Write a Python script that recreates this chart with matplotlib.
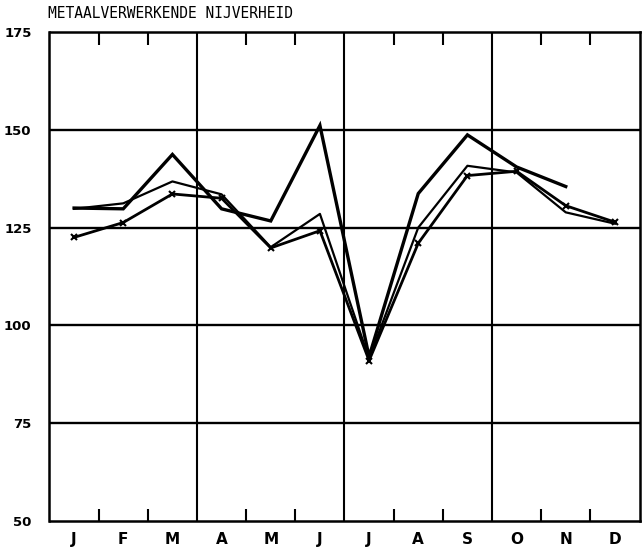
import matplotlib
matplotlib.use("Agg")
import matplotlib.pyplot as plt
from matplotlib.ticker import FixedLocator

months = ["J", "F", "M", "A", "M", "J", "J", "A", "S", "O", "N", "D"]
yticks = [50, 75, 100, 125, 150, 175]

# three series (last one has no December value)
series_a = [130.0, 129.8, 143.7, 129.8, 126.7, 151.1, 92.0, 133.7, 148.7, 140.5, 135.5]
series_b = [129.8, 131.2, 136.8, 133.5, 120.0, 128.5, 91.5, 125.0, 140.8, 139.1, 128.9, 126.0]
series_c = [122.5, 126.3, 133.6, 132.5, 119.8, 124.2, 91.0, 121.0, 138.3, 139.4, 130.6, 126.4]

fig = plt.figure(figsize=(6.43, 5.55), dpi=100)
ax = fig.add_axes([49.5 / 643, 1 - 521 / 555, 590 / 643, 489 / 555])

x = list(range(12))
ax.plot(x[:len(series_a)], series_a, color="black", lw=2.4, solid_joinstyle="miter")
ax.plot(x, series_b, color="black", lw=1.6)
ax.plot(x, series_c, color="black", lw=2.0, marker="x", ms=4, mew=1.5)

ax.set_xlim(-0.5, 11.5)
ax.set_ylim(50, 175)

# horizontal grid lines
for v in yticks[1:-1]:
    ax.axhline(v, color="black", lw=1.7)
# quarter lines
for q in (2.5, 5.5, 8.5):
    ax.axvline(q, color="black", lw=1.5)

for s in ax.spines.values():
    s.set_linewidth(1.8)

ax.set_yticks(yticks)
ax.set_yticklabels([str(v) for v in yticks], fontweight="bold", fontsize=9.5)
ax.tick_params(axis="y", length=0, pad=13)

ax.set_xticks(x)
ax.set_xticklabels(months, fontweight="bold", fontsize=11)
ax.tick_params(axis="x", length=0, pad=8)
for lbl in ax.get_xticklabels():
    lbl.set_x(lbl.get_position()[0])
ax.xaxis.set_minor_locator(FixedLocator([0.5, 1.5, 3.5, 4.5, 6.5, 7.5, 9.5, 10.5]))
ax.tick_params(axis="x", which="minor", direction="in", length=9, width=1.5,
               top=True, bottom=True)

fig.text(48 / 643, 1 - 13 / 555, "METAALVERWERKENDE NIJVERHEID",
         family="DejaVu Sans Mono", fontsize=10.5, va="center", ha="left")

fig.savefig("out.png", dpi=100)
